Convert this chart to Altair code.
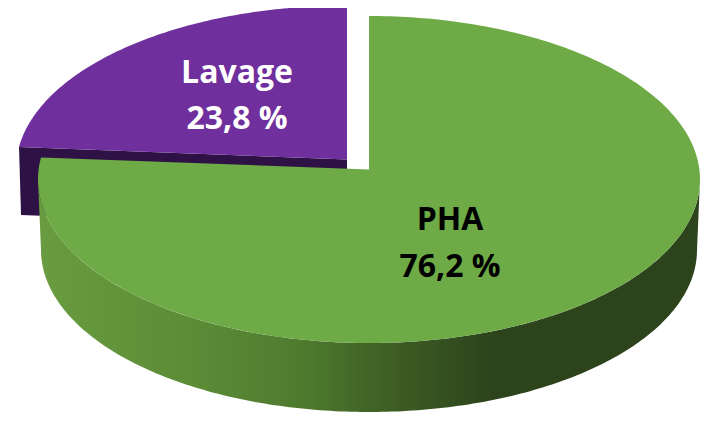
import numpy as np
import pandas as pd
import altair as alt

# Values
categories = ["PHA", "Lavage"]
shares = [76.2, 23.8]
share_labels = ["76,2 %", "23,8 %"]
label_x = [450, 237]
label_name_y = [230, 83]
label_value_y = [277, 129]
label_colors = ["#000000", "#ffffff"]

# Pie geometry in picture pixels
CX, CY, RX, RY = 369.0, 179.5, 331.0, 163.5
APEX_Y = 169.5
BX, BY, BRX, BRY = 369.0, 250.0, 328.0, 162.0
SHIFT = (-22.0, -10.5)       # explosion of the small slice
DEPTH = 68.0
TILT = 0.96                  # foreshortening of the pie angle


def rim(theta_deg, dx=0.0, dy=0.0):
    t = np.radians(theta_deg)
    return CX + dx + RX * np.sin(t), CY + dy - RY * np.cos(t)


def poly(xs, ys, name):
    return pd.DataFrame({"x": xs, "y": ys, "o": np.arange(len(xs)), "part": name})


# The cut between slices: share of the small slice, as a pie angle
cut = 360.0 * shares[1] / sum(shares) * TILT

# Green top: apex, then clockwise from 12 o'clock to the cut
th = np.linspace(0, 360 - cut, 300)
gx, gy = rim(th)
green_top = poly(np.r_[CX, gx], np.r_[APEX_Y, gy], "green_top")

# Green side
th = np.linspace(270, 90, 200)
sx, sy = rim(th)
t = np.radians(th)
bx = BX + BRX * np.sin(t)
by = BY - BRY * np.cos(t)
green_side = poly(np.r_[sx, bx[::-1]], np.r_[sy, by[::-1]], "green_side")

# Purple top
th = np.linspace(360 - cut, 360, 120)
px, py = rim(th, *SHIFT)
apex_px, apex_py = CX + SHIFT[0], APEX_Y + SHIFT[1] + 0.5
purple_top = poly(np.r_[apex_px, px], np.r_[apex_py, py], "purple_top")

# Purple cut face
tip_x, tip_y = px[0], py[0]
purple_side = poly(
    [tip_x, apex_px, apex_px, tip_x + 2],
    [tip_y, apex_py, apex_py + DEPTH, tip_y + DEPTH],
    "purple_side",
)

x_scale = alt.Scale(domain=[8, 703], range=[0, 695], nice=False, zero=False)
y_scale = alt.Scale(domain=[8, 418], range=[0, 410], nice=False, zero=False)
X = alt.X("x:Q", scale=x_scale, axis=None)
Y = alt.Y("y:Q", scale=y_scale, axis=None)


def shape(df, fill):
    return (
        alt.Chart(df)
        .mark_line(fill=fill, stroke=None, strokeWidth=0, clip=False)
        .encode(x=X, y=Y, order="o:Q")
    )


side_gradient = alt.LinearGradient(
    gradient="linear",
    x1=0, x2=1, y1=0, y2=0,
    stops=[
        alt.GradientStop(color="#699c40", offset=0.0),
        alt.GradientStop(color="#5b8b36", offset=0.25),
        alt.GradientStop(color="#4e7a2e", offset=0.40),
        alt.GradientStop(color="#416426", offset=0.50),
        alt.GradientStop(color="#2d431c", offset=0.69),
        alt.GradientStop(color="#2d431c", offset=1.0),
    ],
)

labels = pd.DataFrame(
    {
        "name": categories,
        "value": share_labels,
        "x": label_x,
        "y1": label_name_y,
        "y2": label_value_y,
        "c": label_colors,
    }
)


def text(field, yfield):
    return (
        alt.Chart(labels)
        .mark_text(
            font="Open Sans",
            fontWeight="bold",
            fontSize=32,
            align="center",
            baseline="alphabetic",
        )
        .encode(
            x=X,
            y=alt.Y(f"{yfield}:Q", scale=y_scale, axis=None),
            text=f"{field}:N",
            color=alt.Color("c:N", scale=None),
        )
    )


chart = (
    alt.layer(
        shape(purple_side, "#2e1245"),
        shape(purple_top, "#6f2f9d"),
        shape(green_side, side_gradient),
        shape(green_top, "#6eab47"),
        text("name", "y1"),
        text("value", "y2"),
    )
    .properties(
        width=695,
        height=410,
        padding=0,
        background="#ffffff",
        autosize=alt.AutoSizeParams(type="none"),
    )
    .configure_view(stroke=None)
)

chart.save("out.html", embed_options={"renderer": "svg", "actions": False})
